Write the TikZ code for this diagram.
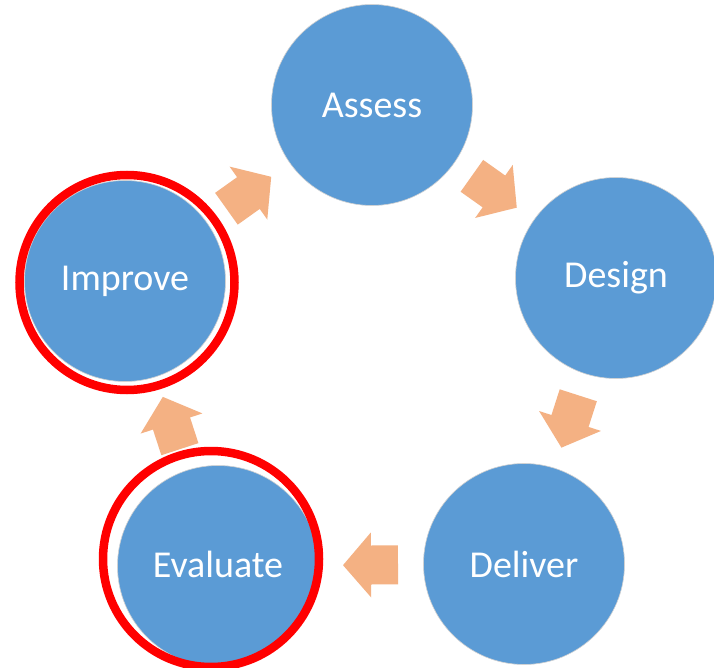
\documentclass[tikz,border=0pt]{standalone}
\usepackage{fontspec}
\setmainfont{Carlito}
\usetikzlibrary{decorations.markings}
\definecolor{cblue}{HTML}{5B9BD5}
\definecolor{carrow}{HTML}{F4B183}
\definecolor{cred}{HTML}{FF0000}
\tikzset{
  stage/.style={circle, minimum size=201pt, inner sep=0pt, fill=cblue,
    draw=black!18, line width=0.6pt, text=white,
    font=\fontsize{38}{42}\selectfont},
  ring/.style={draw=cred, line width=8.5pt},
  blockarrow/.style={postaction={decorate}, decoration={markings,
    mark=at position 0.5 with {\fill[carrow] (-27,-19.5) -- (0,-19.5) -- (0,-32.5)
      -- (28,0) -- (0,32.5) -- (0,19.5) -- (-27,19.5) -- cycle;}}}
}
\begin{document}
\begin{tikzpicture}[x=1pt,y=-1pt]
\useasboundingbox (0,0) rectangle (714,668);
\fill[white] (0,0) rectangle (714,668);
\node[stage] (assess) at (372,105) {Assess};
\node[stage] (design) at (616,278) {Design};
\node[stage] (deliver) at (524,564) {Deliver};
\node[stage] (evaluate) at (218,566) {\raisebox{3pt}{Evaluate}};
\node[stage] (improve) at (125,281) {Improve};
\draw[ring] (127,282.5) circle[radius=107.5];
\draw[ring] (211,559) circle[radius=108];
\path[blockarrow] (improve) -- (assess);
\path[blockarrow] (assess) -- (design);
\path[blockarrow] (design) -- (deliver);
\path[blockarrow] (deliver) -- (evaluate);
\path[blockarrow] (evaluate) -- (improve);
\end{tikzpicture}
\end{document}
